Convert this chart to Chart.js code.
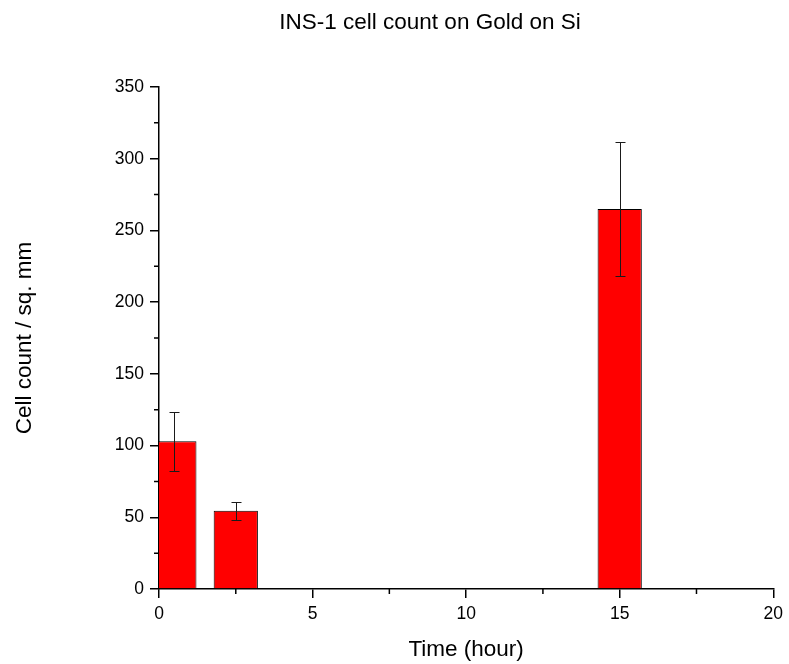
<!DOCTYPE html>
<html>
<head>
<meta charset="utf-8">
<script src="https://cdn.jsdelivr.net/npm/chart.js@4.4.1/dist/chart.umd.min.js"></script>
<style>
  html, body { margin: 0; padding: 0; background: #ffffff; }
  #wrap { width: 789px; height: 664px; position: relative; }
</style>
</head>
<body>
<div id="wrap"><canvas id="c" width="789" height="664"></canvas></div>
<script>
// ---- data ----
const times = [0.5, 2.5, 15];          // hours
const counts = [103, 54.5, 265];       // cell count / sq. mm
const errors = [20.5, 6.4, 47];        // +/- error
const xTicks = [0, 5, 10, 15, 20];
const yTicks = [0, 50, 100, 150, 200, 250, 300, 350];
const chartTitle = 'INS-1 cell count on Gold on Si';

const FONT = "'Liberation Sans', Arial, sans-serif";

const errorBarPlugin = {
  id: 'errorBars',
  afterDatasetsDraw(chart) {
    const ctx = chart.ctx;
    const xs = chart.scales.x, ys = chart.scales.y;
    ctx.save();
    ctx.strokeStyle = '#1a1a1a';
    ctx.lineWidth = 1;
    for (let i = 0; i < times.length; i++) {
      const px = Math.round(xs.getPixelForValue(times[i])) + 0.5;
      const top = Math.round(ys.getPixelForValue(counts[i] + errors[i])) + 0.5;
      const bot = Math.round(ys.getPixelForValue(counts[i] - errors[i])) + 0.5;
      ctx.beginPath();
      ctx.moveTo(px, top); ctx.lineTo(px, bot);
      ctx.moveTo(px - 5, top); ctx.lineTo(px + 5, top);
      ctx.moveTo(px - 5, bot); ctx.lineTo(px + 5, bot);
      ctx.stroke();
    }
    ctx.restore();
  }
};

const minorTickPlugin = {
  id: 'minorTicks',
  afterDraw(chart) {
    const ctx = chart.ctx;
    const xs = chart.scales.x, ys = chart.scales.y;
    const area = chart.chartArea;
    ctx.save();
    ctx.strokeStyle = '#000';
    ctx.lineWidth = 1.5;
    ctx.beginPath();
    for (let i = 0; i < xTicks.length - 1; i++) {
      const v = (xTicks[i] + xTicks[i + 1]) / 2;
      const p = xs.getPixelForValue(v);
      ctx.moveTo(p, area.bottom); ctx.lineTo(p, area.bottom + 5);
    }
    for (let i = 0; i < yTicks.length - 1; i++) {
      const v = (yTicks[i] + yTicks[i + 1]) / 2;
      const p = ys.getPixelForValue(v);
      ctx.moveTo(area.left, p); ctx.lineTo(area.left - 5, p);
    }
    ctx.stroke();
    ctx.restore();
  }
};

// title drawn offset to the right of the canvas centre, as in the reference
const titlePlugin = {
  id: 'offsetTitle',
  afterDraw(chart) {
    const ctx = chart.ctx;
    ctx.save();
    ctx.fillStyle = '#000';
    ctx.font = '22.5px ' + FONT;
    ctx.textAlign = 'center';
    ctx.textBaseline = 'middle';
    ctx.fillText(chartTitle, 430, 23);
    ctx.restore();
  }
};

const points = times.map((t, i) => ({ x: t, y: counts[i] }));

new Chart(document.getElementById('c'), {
  type: 'bar',
  data: {
    datasets: [{
      data: points,
      backgroundColor: '#ff0000',
      borderColor: '#000000',
      borderWidth: 1,
      barPercentage: 0.72,
      categoryPercentage: 1.0
    }]
  },
  options: {
    responsive: false,
    animation: false,
    devicePixelRatio: 1,
    layout: { padding: { left: 0, right: 11, top: 87, bottom: 0 } },
    plugins: {
      legend: { display: false },
      tooltip: { enabled: false },
      title: { display: false }
    },
    scales: {
      x: {
        type: 'linear',
        min: 0, max: 20,
        offset: false,
        afterBuildTicks(scale) { scale.ticks = xTicks.map(v => ({ value: v })); },
        afterFit(scale) { scale.height = 75; },
        grid: { display: true, offset: false, drawOnChartArea: false, drawTicks: true, tickLength: 9, color: '#000', lineWidth: 1.5 },
        border: { display: true, color: '#000', width: 1.5 },
        ticks: { color: '#000', font: { family: FONT, size: 17.5 }, padding: 6, maxRotation: 0 },
        title: { display: true, text: 'Time (hour)', color: '#000', font: { family: FONT, size: 22.5 }, padding: { top: 4, bottom: 1 } }
      },
      y: {
        type: 'linear',
        min: 0, max: 350,
        afterBuildTicks(scale) { scale.ticks = yTicks.map(v => ({ value: v })); },
        afterFit(scale) { scale.width = 159; },
        grid: { display: true, offset: false, drawOnChartArea: false, drawTicks: true, tickLength: 9, color: '#000', lineWidth: 1.5 },
        border: { display: true, color: '#000', width: 1.5 },
        ticks: { color: '#000', font: { family: FONT, size: 17.5 }, padding: 6 },
        title: { display: true, text: 'Cell count / sq. mm', color: '#000', font: { family: FONT, size: 22.5 }, padding: { top: 11.5, bottom: 4 } }
      }
    }
  },
  plugins: [errorBarPlugin, minorTickPlugin, titlePlugin]
});
</script>
</body>
</html>
